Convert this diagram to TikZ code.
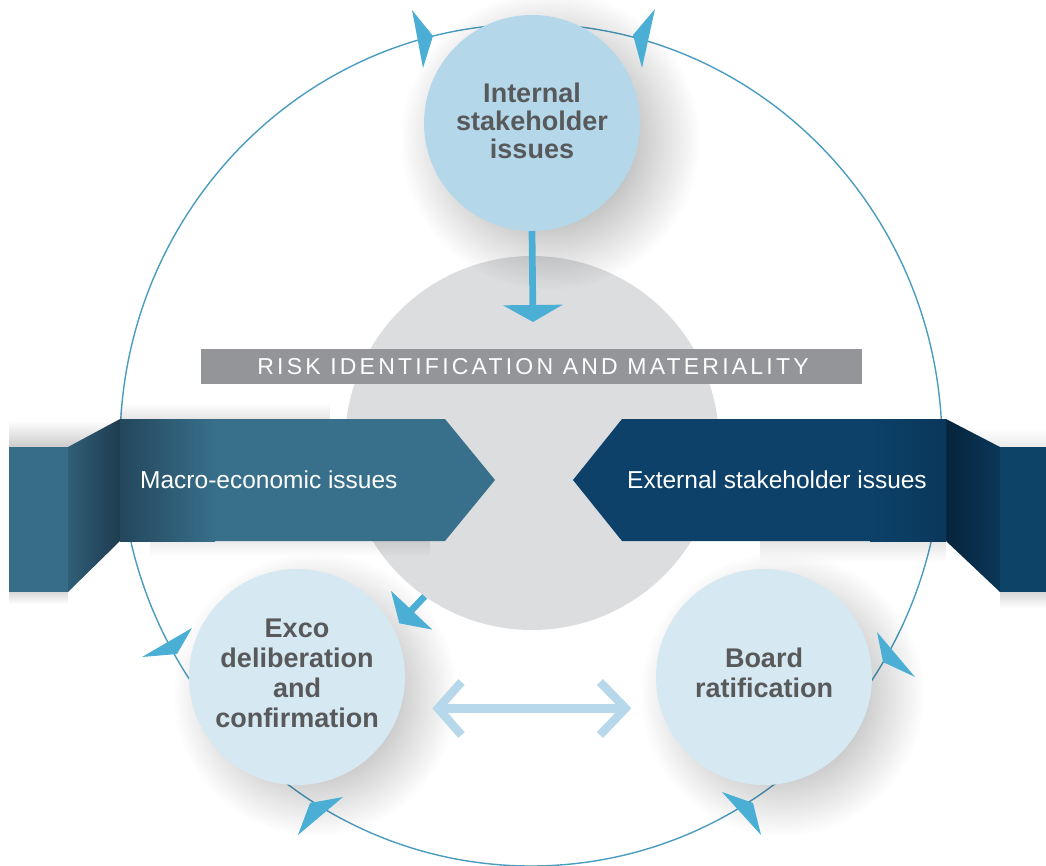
\documentclass[tikz,border=0pt]{standalone}
\usepackage{fontspec}
\setmainfont{Liberation Sans}
\newfontfamily\barfont[LetterSpace=14]{Liberation Sans}
\usetikzlibrary{fadings,arrows.meta,calc}
\definecolor{ringc}{HTML}{4A9CC0}
\definecolor{tipc}{HTML}{4BAED4}
\definecolor{topc}{HTML}{B4D8EA}
\definecolor{botc}{HTML}{D6E8F2}
\definecolor{grayc}{HTML}{DCDDDF}
\definecolor{barc}{HTML}{939598}
\definecolor{txtc}{HTML}{58595B}
\definecolor{macroc}{HTML}{386F8A}
\definecolor{macrodk}{HTML}{23475D}
\definecolor{macrofoldl}{HTML}{2F5E77}
\definecolor{macrofoldr}{HTML}{1F3C50}
\definecolor{macroback}{HTML}{376D89}
\definecolor{extc}{HTML}{0D4169}
\definecolor{extdk}{HTML}{0A375B}
\definecolor{extfoldl}{HTML}{06243C}
\definecolor{extfoldr}{HTML}{0B3758}
\definecolor{extback}{HTML}{0E4368}
\definecolor{dblc}{HTML}{B6D8EA}
\tikzfading[name=fadeup, top color=transparent!100, bottom color=transparent!0]
\tikzfading[name=fadedown, top color=transparent!0, bottom color=transparent!100]
\pgfdeclareradialshading{softdiscsh}{\pgfpoint{0bp}{0bp}}{color(0bp)=(white); color(9bp)=(white); color(25bp)=(black); color(50bp)=(black)}
\pgfdeclarefading{softdisc}{\pgfuseshading{softdiscsh}}
\tikzset{
  bubble/.style={circle, inner sep=0pt, outer sep=0pt, minimum size=216pt},
  bubtext/.style={align=center, text=txtc, font=\bfseries\fontsize{27}{30}\selectfont, inner sep=0pt},
  ribtext/.style={text=white, font=\fontsize{24.5}{26}\selectfont, inner sep=0pt},
  ring/.style={draw=ringc, line width=1.4pt},
  dart/.style={fill=tipc},
  bluearrow/.style={draw=tipc, line width=6.7pt},
  dbl/.style={draw=dblc, line width=8.5pt, line join=miter},
  softshadow/.style={fill=black, opacity=#1, path fading=softdisc},
}
\begin{document}
\begin{tikzpicture}[x=1pt,y=-1pt]
\useasboundingbox (0,0) rectangle (1046,866);
\fill[white] (0,0) rectangle (1046,866);

% outer ring
\draw[ring] (531,445) ellipse [x radius=411, y radius=421];

% central grey disc
\node[circle, fill=grayc, inner sep=0pt, minimum size=374pt] (core) at (532,443) {};

% shadow of top bubble
\fill[softshadow=.32] (550,140) circle (150);

% risk bar
\node[fill=barc, minimum width=661pt, minimum height=35pt, inner sep=0pt] (risk) at (531.5,366.5) {};
\node[text=white, inner sep=0pt, font=\barfont\fontsize{23}{24}\selectfont] (risk-t) at (533,367) {RISK IDENTIFICATION AND MATERIALITY};

% ribbon shadows
\fill[black, opacity=.20, path fading=fadeup] (9,420) rectangle (120,447);
\fill[black, opacity=.10, path fading=fadeup] (120,402) rectangle (330,419);
\fill[black, opacity=.08, path fading=fadedown] (150,541) rectangle (430,556);
\fill[black, opacity=.15, path fading=fadedown] (9,592) rectangle (68,604);
\fill[black, opacity=.10, path fading=fadedown] (760,541) rectangle (946,562);
\fill[black, opacity=.16, path fading=fadedown] (1000,592) rectangle (1046,608);
\fill[black, opacity=.08, path fading=fadeup] (946,428) rectangle (1046,447);

% left ribbon
\fill[macroback] (9,447) rectangle (68,592);
\shade[left color=macrofoldl, right color=macrofoldr] (68,447) -- (120,419) -- (120,541) -- (68,592) -- cycle;
\fill[macroc] (120,419) -- (445,419) -- (495,480) -- (445,541) -- (120,541) -- cycle;
\shade[left color=macrodk, right color=macroc] (120,419) rectangle (215,541);

% right ribbon
\fill[extback] (1000,447) rectangle (1046,592);
\shade[left color=extfoldl, right color=extfoldr] (946,419) -- (1000,447) -- (1000,592) -- (946,541) -- cycle;
\fill[extc] (573,480) -- (622,419) -- (946,419) -- (946,541) -- (622,541) -- cycle;
\shade[left color=extc, right color=extdk] (870,419) rectangle (946,541);

\node[ribtext, anchor=west] (macro) at (140,480) {Macro-economic issues};
\node[ribtext, anchor=east] (ext) at (927,480) {External stakeholder issues};

% bottom bubble shadows
\fill[softshadow=.30] (315,694) circle (142);
\fill[softshadow=.30] (782,694) circle (142);

% bubbles
\node[bubble, fill=topc] (int) at (532,123) {};
\node[bubtext, font=\bfseries\fontsize{27}{28}\selectfont] (int-t) at (532,121) {Internal\\stakeholder\\issues};
\node[bubble, fill=botc] (exco) at (297,677) {};
\node[bubtext] (exco-t) at (297,673) {Exco\\deliberation\\and\\confirmation};
\node[bubble, fill=botc] (board) at (764,677) {};
\node[bubtext] (board-t) at (764,673) {Board\\ratification};

% arrows into core
\coordinate (coretip) at (533,322);
\draw[bluearrow, -{Triangle[width=59pt,length=17pt]}] (int.south) -- (coretip);
\coordinate (excotip) at (399.3,623.3);
\draw[bluearrow, -{Triangle[width=56pt,length=18pt]}] (core.235) -- (excotip);

% double arrow between exco and board
\coordinate (dl) at (438,708.3);
\coordinate (dr) at (625.5,708.3);
\draw[dbl] (dl) -- (dr);
\draw[dbl] ($(dl)+(23.5,-26.3)$) -- (dl) -- ($(dl)+(23.5,26.7)$);
\draw[dbl] ($(dr)+(-25.5,-26.3)$) -- (dr) -- ($(dr)+(-25.5,26.7)$);

% darts on the ring
\fill[dart] (412,10) -- (433,36) -- (423,68) -- cycle;
\fill[dart] (655,9) -- (633,35) -- (642,68) -- cycle;
\fill[dart] (192,628) -- (177,654) -- (142,657) -- cycle;
\fill[dart] (343,797) -- (310,803) -- (298,835) -- cycle;
\fill[dart] (877,632) -- (883,662) -- (915,677) -- cycle;
\fill[dart] (722,792) -- (753,803) -- (761,835) -- cycle;
\end{tikzpicture}
\end{document}
